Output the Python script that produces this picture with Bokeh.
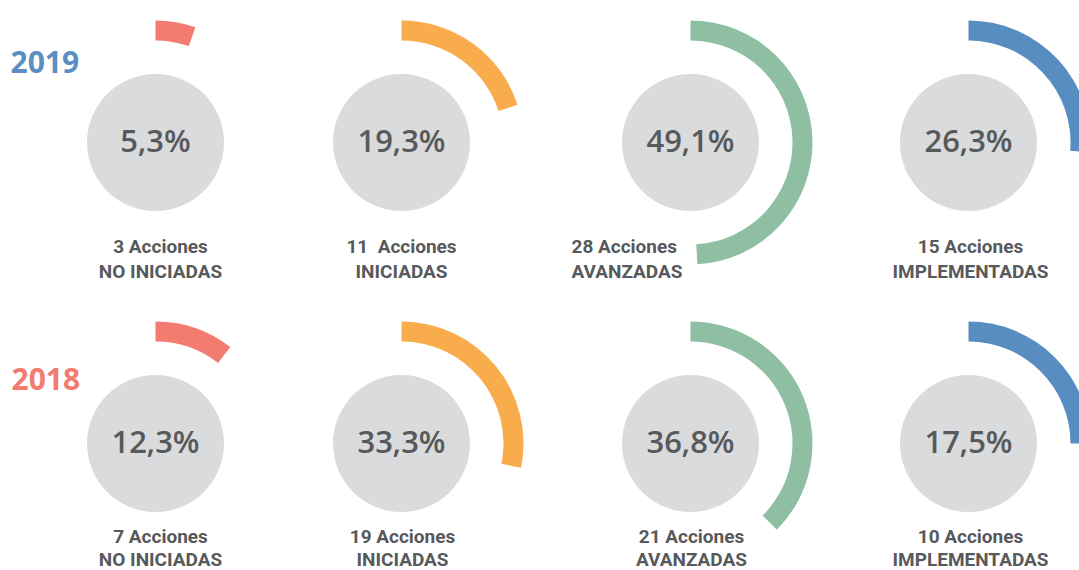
import math
from bokeh.plotting import figure
from bokeh.models import Range1d, ColumnDataSource
from bokeh.core.properties import value
from bokeh.embed import file_html
from bokeh.resources import INLINE

# ---- data ----
years = ["2019", "2018"]
categories = ["NO INICIADAS", "INICIADAS", "AVANZADAS", "IMPLEMENTADAS"]
pct_2019 = ["5,3%", "19,3%", "49,1%", "26,3%"]
pct_2018 = ["12,3%", "33,3%", "36,8%", "17,5%"]
acciones_2019 = ["3 Acciones", "11  Acciones", "28 Acciones", "15 Acciones"]
acciones_2018 = ["7 Acciones", "19 Acciones", "21 Acciones", "10 Acciones"]
# arc length (percent of full turn) as drawn in the picture
arc_2019 = [5.3, 20.0, 49.1, 26.3]
arc_2018 = [10.5, 28.2, 37.5, 25.0]

colors = ["#f37b70", "#f9ac4b", "#8ebfa3", "#578dc1"]
year_colors = ["#5a8fc3", "#f37b70"]
TXT = "#58595b"
GREY = "#dadbdd"

W, H = 1079, 570
col_x = [155, 401, 690, 968]
row_py = [142, 443]
label_x = [[160, 401, 571, 970], [160, 402, 691, 970]]
label_align = [["center", "center", "left", "center"], ["center", "center", "center", "center"]]
label_py = [[246, 271], [536, 559]]

p = figure(width=W, height=H, x_range=Range1d(0, W), y_range=Range1d(0, H),
           toolbar_location=None, output_backend="svg", min_border=0,
           x_axis_type=None, y_axis_type=None)
p.grid.visible = False
p.outline_line_color = None
p.background_fill_color = "white"
p.border_fill_color = "white"

pcts = [pct_2019, pct_2018]
accs = [acciones_2019, acciones_2018]
arcs = [arc_2019, arc_2018]

for r in range(2):
    cy = H - row_py[r]
    xs = col_x
    ys = [cy] * 4
    # arcs: start at 12 o'clock, run clockwise
    starts = [math.pi / 2 - 2 * math.pi * a / 100 for a in arcs[r]]
    ends = [math.pi / 2] * 4
    src = ColumnDataSource(dict(x=xs, y=ys, ty=[cy + 3] * 4, start=starts, end=ends,
                                color=colors, pct=pcts[r]))
    p.annular_wedge(x="x", y="y", inner_radius=102, outer_radius=122,
                    start_angle="start", end_angle="end", direction="anticlock",
                    fill_color="color", line_color=None, source=src)
    p.circle(x="x", y="y", radius=68.5, fill_color=GREY, line_color=None, source=src)
    p.text(x="x", y="ty", text="pct", text_align="center", text_baseline="middle",
           text_font=value("'Open Sans SemiBold', 'Open Sans'"), text_font_size="31px",
           text_color=TXT, source=src)
    for c in range(4):
        lsrc = ColumnDataSource(dict(x=[label_x[r][c]] * 2,
                                     y=[H - label_py[r][0], H - label_py[r][1]],
                                     t=[accs[r][c].replace("  ", "\u00a0\u00a0"), categories[c]]))
        p.text(x="x", y="y", text="t", text_align=label_align[r][c],
               text_baseline="middle", text_font=value("Roboto"),
               text_font_style="bold", text_font_size="19px", text_color=TXT,
               source=lsrc)

ysrc = ColumnDataSource(dict(x=[10, 11], y=[H - 61, H - 378], t=years, c=year_colors))
p.text(x="x", y="y", text="t", text_color="c", text_align="left", text_baseline="middle",
       text_font=value("Open Sans"), text_font_style="bold", text_font_size="30px",
       source=ysrc)

open("out.html", "w").write(file_html(p, INLINE))
